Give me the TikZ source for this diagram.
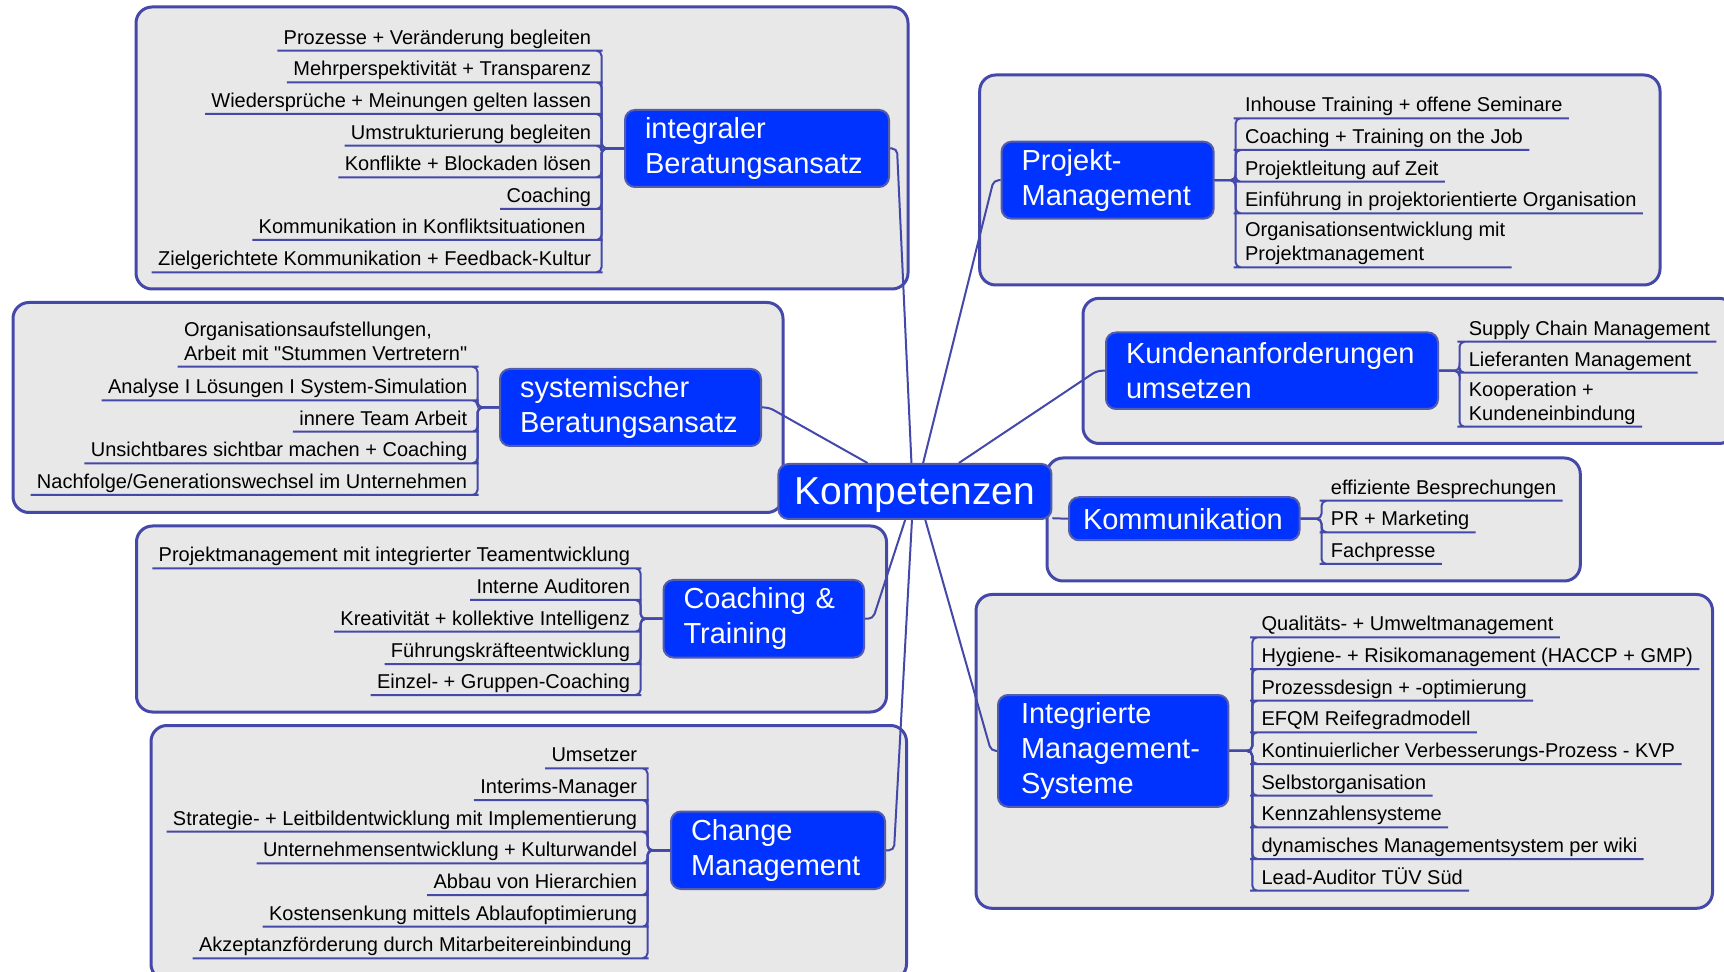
\documentclass[tikz,border=0pt]{standalone}
\usepackage{fontspec}
\setmainfont{Liberation Sans}[Ligatures=TeXOff]
\definecolor{boxline}{RGB}{68,72,168}
\definecolor{boxfill}{RGB}{232,232,232}
\definecolor{nodeblue}{RGB}{0,51,255}
\definecolor{nodeline}{RGB}{84,92,172}

\begin{document}
\begin{tikzpicture}
		[x=0.5pt,y=-0.5pt,
		group/.style={draw=boxline,fill=boxfill,line width=1.5pt,rounded corners=8pt},
		link/.style={draw=boxline,line width=1pt,rounded corners=2.5pt},
		topic/.style={draw=nodeline,fill=nodeblue,text=white,line width=1pt,rounded corners=5pt,
			font=\fontsize{14.5}{17.4}\selectfont,align=left,inner xsep=10pt,inner ysep=0pt},
		item/.style={font=\fontsize{10}{12}\selectfont,inner xsep=3pt,inner ysep=0pt,align=left,
			execute at end node={\vrule width 0pt height 7pt depth 3pt}},
		itemL/.style={item,anchor=south east},
		itemR/.style={item,anchor=south west}]
		\useasboundingbox (0,0) rectangle (1724,972);
		
		% background boxes
		\draw[group] (136,7) rectangle (908,289);
		\draw[group] (13,302.5) rectangle (783,512.5);
		\draw[group] (136.5,526) rectangle (886.5,712);
		\draw[group] (151,725.5) rectangle (906.5,980);
		\draw[group] (979.7,75) rectangle (1660,285);
		\draw[group] (1083,298.3) rectangle (1735,443.5);
		\draw[group] (1047,458) rectangle (1580.3,581);
		\draw[group] (976,594.5) rectangle (1712.5,908.3);
		
		\node[topic,align=center,inner xsep=7pt,minimum width=136.5pt,minimum height=27.5pt,text depth=0pt,
			font=\fontsize{19.5}{23.4}\selectfont] (komp) at (914.95,491.5) {Kompetenzen};
		
		\node[topic,text width=112pt,minimum width=132pt,minimum height=38.5pt] (ib) at (757,148.5) {integraler\\Beratungsansatz};
		\node[topic,text width=110.5pt,minimum width=130.5pt,minimum height=38.5pt] (sb) at (630.5,407.5) {systemischer\\Beratungsansatz};
		\node[topic,text width=80.25pt,minimum width=100.25pt,minimum height=38.75pt] (ct) at (763.75,618.75) {Coaching \&\\Training};
		\node[topic,text width=87pt,minimum width=107pt,minimum height=38.75pt] (cm) at (778,850.25) {Change\\Management};
		\node[topic,text width=86pt,minimum width=106pt,minimum height=38.5pt] (pm) at (1107.6,180.2) {Projekt-\\Management};
		\node[topic,text width=146pt,minimum width=166pt,minimum height=38.25pt] (ka) at (1272,370.75) {Kundenanforderungen\\umsetzen};
		\node[topic,inner xsep=7pt,text width=101.25pt,minimum width=115.25pt,minimum height=21.5pt] (ko) at (1184.25,518.75) {Kommunikation};
		\node[topic,inner xsep=11.5pt,text width=92.15pt,minimum width=115.15pt,minimum height=55.9pt] (im) at (1113.15,750.9) {Integrierte\\Management-\\Systeme};
		
		% integraler Beratungsansatz
		\node[itemL] (ib1) at (597.5,50.7) {Prozesse + Veränderung begleiten};
		\node[itemL] (ib2) at (597.5,82.3) {Mehrperspektivität + Transparenz};
		\node[itemL] (ib3) at (597.5,114) {Wiedersprüche + Meinungen gelten lassen};
		\node[itemL] (ib4) at (597.5,145.7) {Umstrukturierung begleiten};
		\node[itemL] (ib5) at (597.5,177.3) {Konflikte + Blockaden lösen};
		\node[itemL] (ib6) at (597.5,209) {Coaching};
		\node[itemL] (ib7) at (597.5,240) {Kommunikation in Konfliktsituationen\ };
		\node[itemL] (ib8) at (597.5,272.3) {Zielgerichtete Kommunikation + Feedback-Kultur};
		
		% systemischer Beratungsansatz
		\node[itemL] (sb1) at (473.6,366.7) {Organisationsaufstellungen,\\Arbeit mit "Stummen Vertretern"};
		\node[itemL] (sb2) at (473.6,400.3) {Analyse I Lösungen I System-Simulation};
		\node[itemL] (sb3) at (473.6,431.7) {innere Team Arbeit};
		\node[itemL] (sb4) at (473.6,463.3) {Unsichtbares sichtbar machen + Coaching};
		\node[itemL] (sb5) at (473.6,495) {Nachfolge/Generationswechsel im Unternehmen};
		
		% Coaching & Training
		\node[itemL] (ct1) at (636.4,568.3) {Projektmanagement mit integrierter Teamentwicklung};
		\node[itemL] (ct2) at (636.4,600) {Interne Auditoren};
		\node[itemL] (ct3) at (636.4,631.7) {Kreativität + kollektive Intelligenz};
		\node[itemL] (ct4) at (636.4,664) {Führungskräfteentwicklung};
		\node[itemL] (ct5) at (636.4,695) {Einzel- + Gruppen-Coaching};
		
		% Change Management
		\node[itemL] (cm1) at (643.5,768.3) {Umsetzer};
		\node[itemL] (cm2) at (643.5,800) {Interims-Manager};
		\node[itemL] (cm3) at (643.5,831.7) {Strategie- + Leitbildentwicklung mit Implementierung};
		\node[itemL] (cm4) at (643.5,863.3) {Unternehmensentwicklung + Kulturwandel};
		\node[itemL] (cm5) at (643.5,895) {Abbau von Hierarchien};
		\node[itemL] (cm6) at (643.5,926.7) {Kostensenkung mittels Ablaufoptimierung};
		\node[itemL] (cm7) at (643.5,958.3) {Akzeptanzförderung durch Mitarbeitereinbindung\ };
		
		% Projekt-Management
		\node[itemR] (pm1) at (1238.7,118.3) {Inhouse Training + offene Seminare};
		\node[itemR] (pm2) at (1238.7,150) {Coaching + Training on the Job};
		\node[itemR] (pm3) at (1238.7,181.7) {Projektleitung auf Zeit};
		\node[itemR] (pm4) at (1238.7,213.3) {Einführung in projektorientierte Organisation};
		\node[itemR] (pm5) at (1238.7,267.3) {Organisationsentwicklung mit\\Projektmanagement};
		
		% Kundenanforderungen umsetzen
		\node[itemR] (ka1) at (1462.4,341.7) {Supply Chain Management};
		\node[itemR] (ka2) at (1462.4,372.7) {Lieferanten Management};
		\node[itemR] (ka3) at (1462.4,426.7) {Kooperation +\\Kundeneinbindung};
		
		% Kommunikation
		\node[itemR] (ko1) at (1324.5,500.7) {effiziente Besprechungen};
		\node[itemR] (ko2) at (1324.5,532.3) {PR + Marketing};
		\node[itemR] (ko3) at (1324.5,564) {Fachpresse};
		
		% Integrierte Management-Systeme
		\node[itemR] (im1) at (1255.2,637.3) {Qualitäts- + Umweltmanagement};
		\node[itemR] (im2) at (1255.2,669) {Hygiene- + Risikomanagement (HACCP + GMP)};
		\node[itemR] (im3) at (1255.2,700.7) {Prozessdesign + -optimierung};
		\node[itemR] (im4) at (1255.2,732.3) {EFQM Reifegradmodell};
		\node[itemR] (im5) at (1255.2,764) {Kontinuierlicher Verbesserungs-Prozess - KVP};
		\node[itemR] (im6) at (1255.2,795.7) {Selbstorganisation};
		\node[itemR] (im7) at (1255.2,827.3) {Kennzahlensysteme};
		\node[itemR] (im8) at (1255.2,859) {dynamisches Managementsystem per wiki};
		\node[itemR] (im9) at (1255.2,890.7) {Lead-Auditor TÜV Süd};
		
		\foreach \to/\side/\stub/\ang in {ib/east/7/97,sb/east/7/149,ct/east/8/251,cm/east/8/264,
			pm/west/-7/74,ka/west/-8/33,im/west/-6/290}
		\draw[link] (\to.\side) -- ++(\stub,0) -- (komp.\ang);
		\draw[link] (komp.349.5) -- (ko.west);
		
		\foreach \i in {1,...,8}
		\draw[link] (ib.west) -- ++(-22.5,0) |- (ib\i.south east) -- (ib\i.south west);
		\foreach \i in {1,...,5}
		\draw[link] (sb.west) -- ++(-21.5,0) |- (sb\i.south east) -- (sb\i.south west);
		\foreach \i in {1,...,5}
		\draw[link] (ct.west) -- ++(-22,0) |- (ct\i.south east) -- (ct\i.south west);
		\foreach \i in {1,...,7}
		\draw[link] (cm.west) -- ++(-22.5,0) |- (cm\i.south east) -- (cm\i.south west);
		\foreach \i in {1,...,5}
		\draw[link] (pm.east) -- ++(21,0) |- (pm\i.south west) -- (pm\i.south east);
		\foreach \i in {1,...,3}
		\draw[link] (ka.east) -- ++(20.5,0) |- (ka\i.south west) -- (ka\i.south east);
		\foreach \i in {1,...,3}
		\draw[link] (ko.east) -- ++(21,0) |- (ko\i.south west) -- (ko\i.south east);
		\foreach \i in {1,...,9}
		\draw[link] (im.east) -- ++(23,0) |- (im\i.south west) -- (im\i.south east);
		\end{tikzpicture}
\end{document}
